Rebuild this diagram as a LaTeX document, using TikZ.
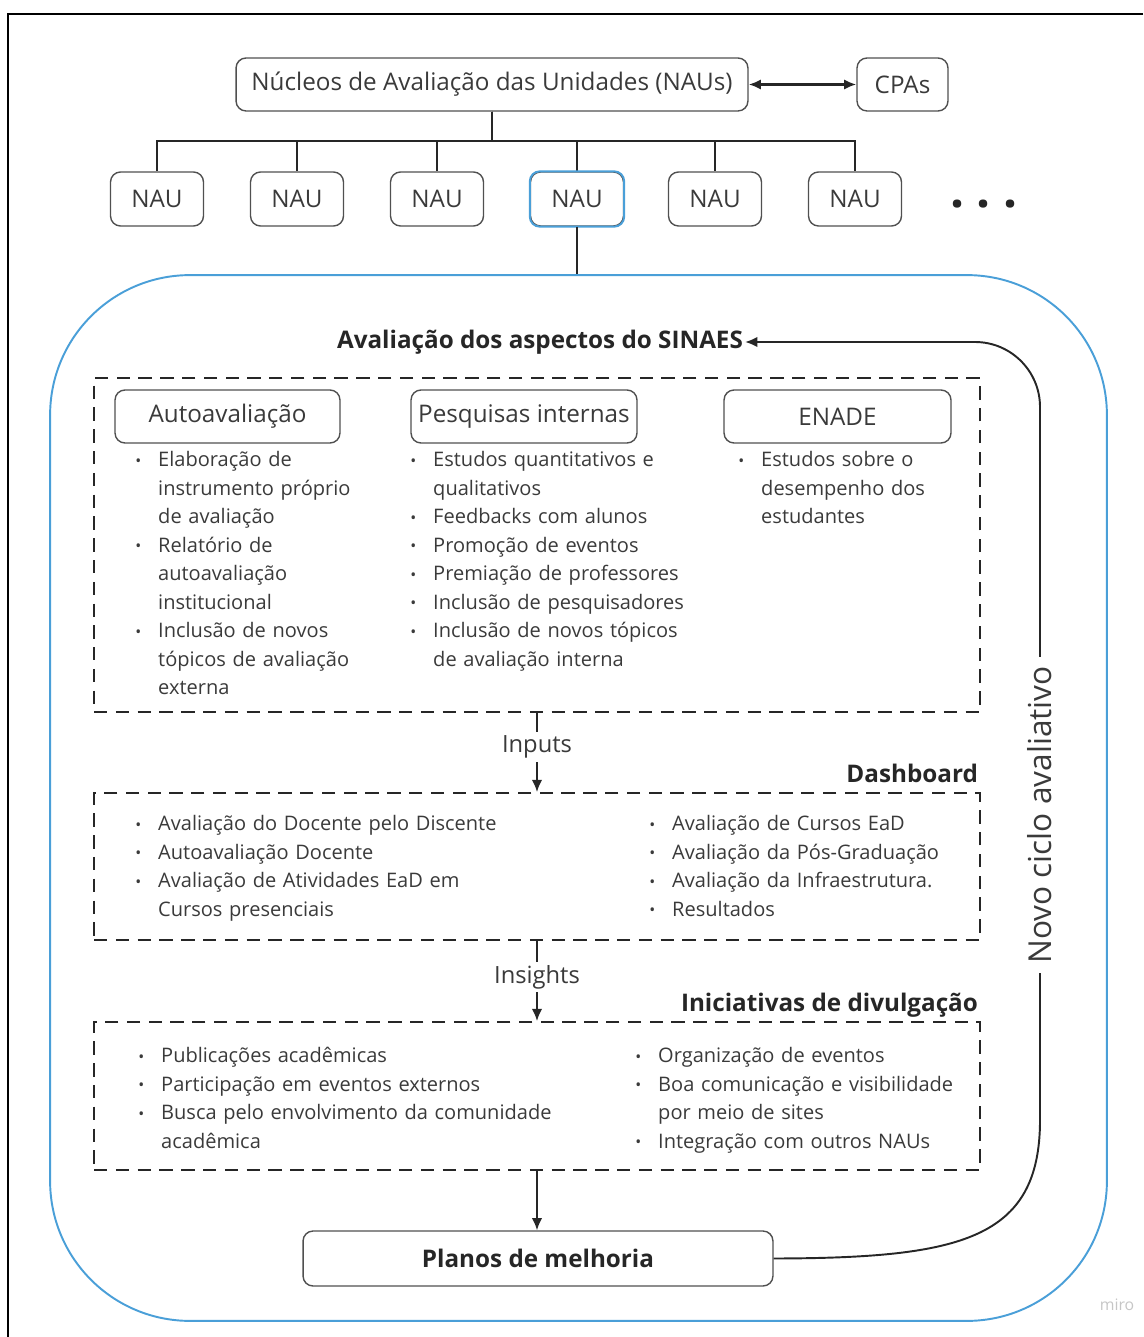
\documentclass[tikz,border=0pt]{standalone}
\usepackage{fontspec}
\setmainfont{Open Sans}
\usepackage{tikz}
\usetikzlibrary{arrows.meta}

\definecolor{txt}{HTML}{3A3A3A}
\definecolor{edge}{HTML}{505050}
\definecolor{ink}{HTML}{262626}
\definecolor{nauBlue}{HTML}{4A9FD8}

% item de lista com marcador
\newcommand{\itm}[1]{\par\noindent\hangindent=17pt\hangafter=1\strut\hbox to 17pt{\hbox to 11.3pt{\hss\raisebox{0.3pt}{\small\textbullet}\hss}\hss}#1\par}

\tikzset{
  box/.style={draw=edge, line width=0.8pt, rounded corners=0.2cm, text=txt, inner sep=0pt,
    font=\fontsize{13.8}{16}\selectfont},
  hdr/.style={text=ink, inner sep=1pt, font=\bfseries\fontsize{13.8}{16}\selectfont},
  dbox/.style={draw=ink, line width=1.1pt, dash pattern=on 7.6pt off 4.8pt, minimum width=17.72cm},
  list/.style={text=txt, text width=9cm, inner sep=0pt, anchor=north west,
    font=\fontsize{11.4}{16.2}\selectfont},
  conn/.style={draw=ink, line width=1.1pt},
  flow/.style={fill=white, text=txt, inner sep=2pt, font=\fontsize{13.5}{16}\selectfont},
}

\begin{document}
\begin{tikzpicture}[x=0.02cm, y=-0.02cm, >={Latex[length=7pt,width=6pt]}]
    \useasboundingbox (0,0) rectangle (1143,1337);
    \draw[line width=1.2pt, black] (1143,14) -- (8,14) -- (8,1337);

    % nucleos e unidades
    \node[box, minimum width=10.24cm, minimum height=1.06cm] (naus) at (492,84.5) {Núcleos de Avaliação das Unidades (NAUs)};
    \node[box, minimum width=1.82cm, minimum height=1.06cm] (cpas) at (902.5,84.5) {CPAs};
    \draw[conn, line width=1.6pt, <->] (naus) -- (cpas);
    \foreach \x [count=\i] in {157,297,437,577,715,855} {
        \node[box, minimum width=1.86cm, minimum height=1.08cm] (nau\i) at (\x,199) {NAU};
        \draw[conn] (naus.south) -- ++(0,29) -| (nau\i.north);
    }
    \draw[nauBlue, line width=1.1pt, rounded corners=0.2cm] (nau4.north west) rectangle (nau4.south east);
    \node[text=ink, font=\bfseries\fontsize{28}{28}\selectfont] (more) at (984,204) {.\hspace{7pt}.\hspace{7pt}.};

    % unidade em destaque
    \node[draw=nauBlue, line width=1.1pt, rounded corners=2.8cm, minimum width=21.14cm, minimum height=20.92cm] (unit) at (578.5,798) {};
    \draw[conn] (nau4.south) -- (nau4.south |- unit.north);

    % avaliacao dos aspectos
    \node[hdr] (sinaes) at (540,342) {Avaliação dos aspectos do SINAES};
    \node[dbox, minimum height=6.68cm] (aval) at (537,545) {};
    \node[box, minimum width=4.5cm, minimum height=1.06cm] (auto) at (227.5,416.5) {Autoavaliação};
    \node[box, minimum width=4.52cm, minimum height=1.06cm] (pesq) at (524,416.5) {Pesquisas internas};
    \node[box, minimum width=4.54cm, minimum height=1.06cm] (enade) at (837.5,416.5) {ENADE};
    \node[list] (autolist) at (128,438) {%
        \itm{Elaboração de\newline instrumento próprio\newline de avaliação}
        \itm{Relatório de\newline autoavaliação\newline institucional}
        \itm{Inclusão de novos\newline tópicos de avaliação\newline externa}};
    \node[list] (pesqlist) at (403,438) {%
        \itm{Estudos quantitativos e\newline qualitativos}
        \itm{Feedbacks com alunos}
        \itm{Promoção de eventos}
        \itm{Premiação de professores}
        \itm{Inclusão de pesquisadores}
        \itm{Inclusão de novos tópicos\newline de avaliação interna}};
    \node[list] (enadelist) at (731,438) {%
        \itm{Estudos sobre o\newline desempenho dos\newline estudantes}};

    % dashboard
    \node[dbox, minimum height=2.94cm] (dash) at (537,866.5) {};
    \draw[conn, ->] (aval.south) -- node[flow, pos=0.43] (inputs) {Inputs} (dash.north);
    \node[hdr, anchor=east] (dashlbl) at (980,773) {Dashboard};
    \node[list] (dashleft) at (128,802) {%
        \itm{Avaliação do Docente pelo Discente}
        \itm{Autoavaliação Docente}
        \itm{Avaliação de Atividades EaD em\newline Cursos presenciais}};
    \node[list] (dashright) at (642,802) {%
        \itm{Avaliação de Cursos EaD}
        \itm{Avaliação da Pós-Graduação}
        \itm{Avaliação da Infraestrutura.}
        \itm{Resultados}};

    % divulgacao
    \node[dbox, minimum height=2.96cm] (divul) at (537,1096) {};
    \draw[conn, ->] (dash.south) -- node[flow, pos=0.45] (insights) {Insights} (divul.north);
    \node[hdr, anchor=east] (divlbl) at (980,1005) {Iniciativas de divulgação};
    \node[list] (divleft) at (131,1034) {%
        \itm{Publicações acadêmicas}
        \itm{Participação em eventos externos}
        \itm{Busca pelo envolvimento da comunidade\newline acadêmica}};
    \node[list] (divright) at (628,1034) {%
        \itm{Organização de eventos}
        \itm{Boa comunicação e visibilidade\newline por meio de sites}
        \itm{Integração com outros NAUs}};

    % planos e novo ciclo
    \node[box, text=ink, font=\bfseries\fontsize{13.8}{16}\selectfont, minimum width=9.4cm, minimum height=1.1cm] (planos) at (538,1258.5) {Planos de melhoria};
    \draw[conn, ->] (divul.south) -- (divul.south |- planos.north);
    \draw[conn, ->] (planos.east) .. controls (960,1258) and (1040,1240) .. (1040,1120)
        [rounded corners=1.3cm] -- (1040,342) -- (sinaes.east);
    \node[fill=white, rotate=90, text=txt, inner sep=5pt, font=\fontsize{18}{20}\selectfont] (novo) at (1040,815) {Novo ciclo avaliativo};

    \node[text=gray!45, font=\fontsize{9}{10}\selectfont] (miro) at (1117,1305) {miro};
\end{tikzpicture}
\end{document}
